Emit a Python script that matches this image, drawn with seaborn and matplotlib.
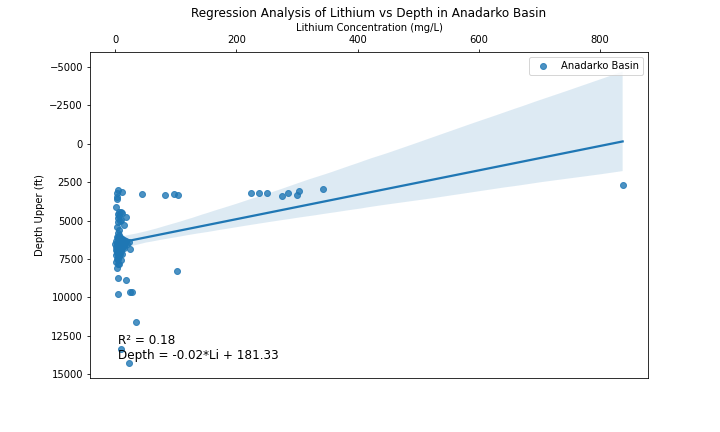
import pandas as pd
import seaborn as sns
import matplotlib
matplotlib.use('Agg')
import matplotlib.pyplot as plt

# values
lithium = [5, 3, 11.5, 3, 3, 44.5, 82, 97, 104, 224, 237, 250, 275, 285, 300, 303, 343, 837,
           2, 9, 11, 5, 7, 18, 4, 6, 9, 8, 4, 15, 3, 6, 5, 7,
           3, 5, 7, 9, 11, 14, 18, 22, 2, 4, 6, 8, 10, 13, 16, 20, 0.3, 3, 5, 7, 9, 12, 15,
           25, 2, 4, 6, 8, 11, 14, 1, 3, 5, 7, 10, 3, 5, 8, 11, 2, 4, 7, 3, 5, 9, 2, 4, 6, 3,
           102, 5, 18, 5, 25, 28, 35, 10, 23]
depth = [3000, 3190, 3130, 3450, 3580, 3260, 3320, 3260, 3320, 3190, 3190, 3190, 3420, 3190, 3350, 3060, 2930, 2700,
         4100, 4430, 4500, 4600, 4450, 4750, 4800, 4700, 4950, 5050, 5100, 5280, 5400, 5600, 5800, 5950,
         6100, 6100, 6100, 6150, 6200, 6250, 6350, 6400, 6300, 6300, 6300, 6350, 6400, 6450, 6450, 6500,
         6500, 6500, 6550, 6550, 6600, 6600, 6650, 6840, 6700, 6700, 6750, 6750, 6800, 6800, 6900, 6950, 6950,
         7000, 7000, 7100, 7100, 7150, 7150, 7250, 7250, 7300, 7500, 7500, 7550, 7700, 7800, 7850, 8080,
         8270, 8730, 8860, 9770, 9640, 9640, 11600, 13350, 14270]

basin_df = pd.DataFrame({'Lithium': lithium, 'Depth': depth})

fig, ax = plt.subplots(figsize=(10, 6), dpi=72)
fig.subplots_adjust(bottom=0.125)
sns.regplot(x='Lithium', y='Depth', data=basin_df, ax=ax, label='Anadarko Basin', seed=3)

ax.set_ylim(15240, -5977)
ax.xaxis.tick_top()
ax.xaxis.set_label_position('top')
ax.set_xlabel('Lithium Concentration (mg/L)')
ax.set_ylabel('Depth Upper (ft)')
ax.set_title('Regression Analysis of Lithium vs Depth in Anadarko Basin')
ax.legend(loc='upper right')
ax.text(0.05, 0.057, 'R² = 0.18\nDepth = -0.02*Li + 181.33', transform=ax.transAxes, fontsize=12)

fig.savefig('out.png', dpi=72)
